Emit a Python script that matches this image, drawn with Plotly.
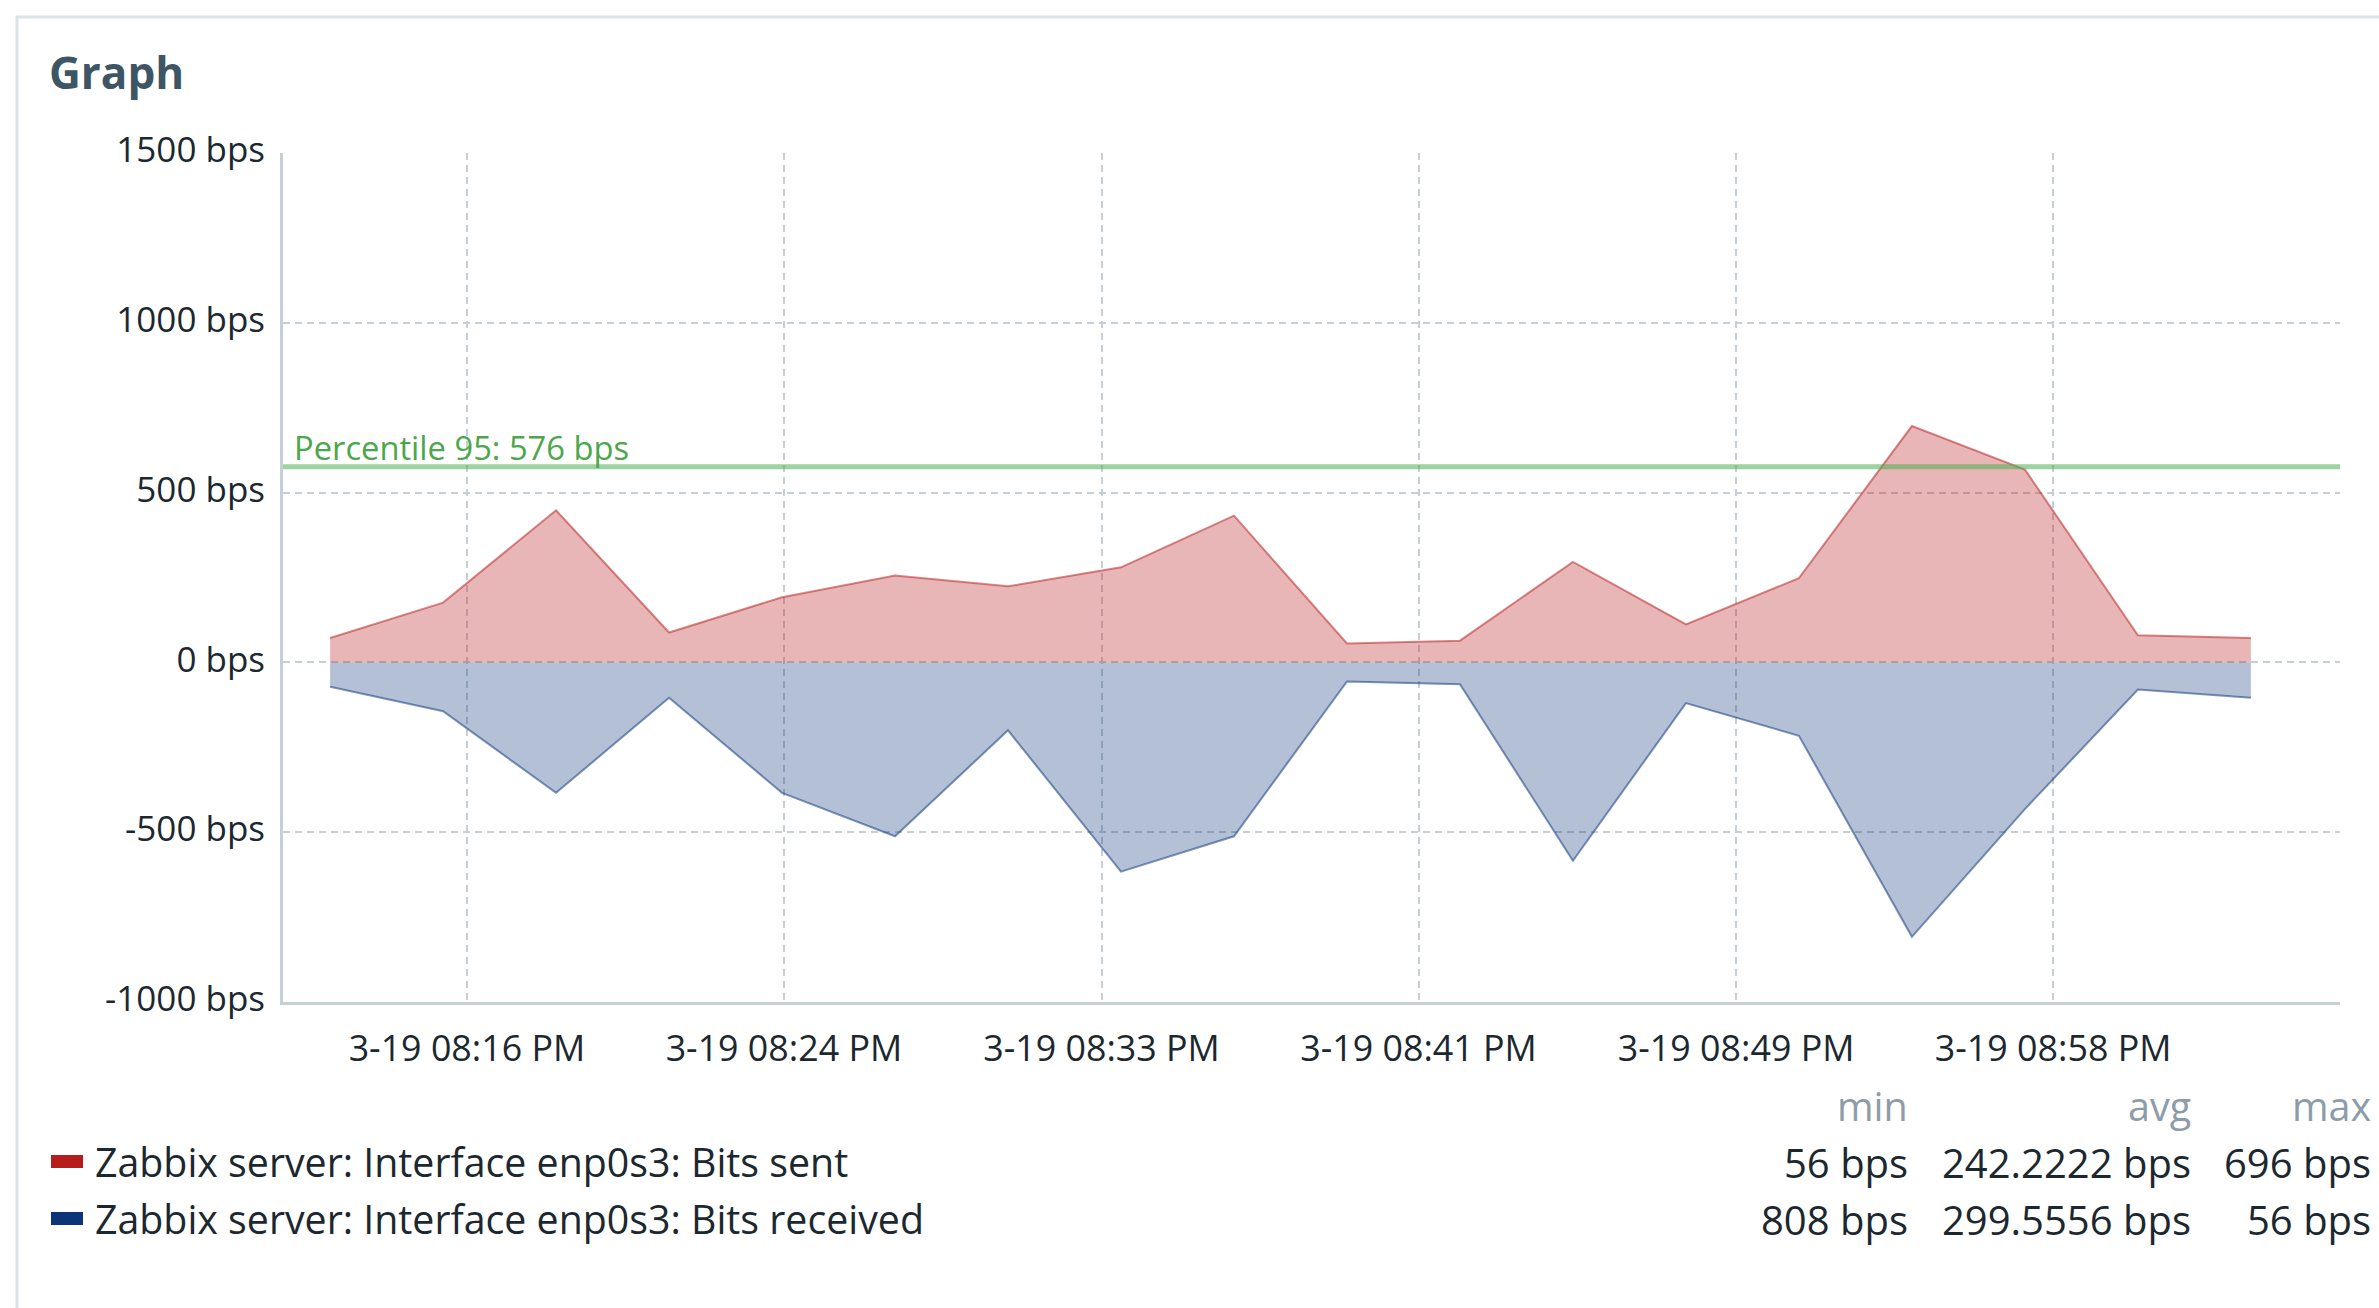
import plotly.graph_objects as go

# ---------------- data ----------------
times = [
    "2024-03-19 20:12:35", "2024-03-19 20:15:35", "2024-03-19 20:18:35",
    "2024-03-19 20:21:35", "2024-03-19 20:24:35", "2024-03-19 20:27:35",
    "2024-03-19 20:30:35", "2024-03-19 20:33:35", "2024-03-19 20:36:35",
    "2024-03-19 20:39:35", "2024-03-19 20:42:35", "2024-03-19 20:45:35",
    "2024-03-19 20:48:35", "2024-03-19 20:51:35", "2024-03-19 20:54:35",
    "2024-03-19 20:57:35", "2024-03-19 21:00:35", "2024-03-19 21:03:35",
]
bits_sent = [72, 176, 448, 88, 192, 256, 224, 280, 432, 56, 64, 296,
             112, 248, 696, 568, 80, 72]
bits_received = [-72, -144, -384, -104, -384, -512, -200, -616, -512, -56,
                 -64, -584, -120, -216, -808, -432, -80, -104]

percentile_95 = 576
percentile_label = "Percentile 95: 576 bps"

x_range = ["2024-03-19 20:11:20", "2024-03-19 21:05:57"]
x_tickvals = ["2024-03-19 20:16:13", "2024-03-19 20:24:38", "2024-03-19 20:33:04",
              "2024-03-19 20:41:29", "2024-03-19 20:49:55", "2024-03-19 20:58:20"]
x_ticktext = ["3-19 08:16 PM", "3-19 08:24 PM", "3-19 08:33 PM",
              "3-19 08:41 PM", "3-19 08:49 PM", "3-19 08:58 PM"]

y_tickvals = [-1000, -500, 0, 500, 1000, 1500]
y_ticktext = ["-1000 bps", "-500 bps", "0 bps", "500 bps", "1000 bps", "1500 bps"]

series_names = ["Zabbix server: Interface enp0s3: Bits sent",
                "Zabbix server: Interface enp0s3: Bits received"]
stat_headers = ["min", "avg", "max"]
sent_stats = ["56 bps", "242.2222 bps", "696 bps"]
received_stats = ["808 bps", "299.5556 bps", "56 bps"]

title_text = "Graph"

# ---------------- styling / layout ----------------
W, H = 2379, 1308
L, R, T, B = 283, 2340, 153, 1002
PW, PH = R - L, B - T
FONT = "Open Sans"
TEXT = "#1c2830"
GRID = "#c6cfd6"

def px_x(px):
    return (px - L) / PW

def px_y(py):
    return (B - py) / PH

RED = "185,28,28"
BLUE = "12,52,120"

fig = go.Figure()
fig.add_trace(go.Scatter(
    x=times, y=bits_sent, mode="lines", fill="tozeroy",
    fillcolor=f"rgba({RED},0.32)", line=dict(color=f"rgba({RED},0.52)", width=2),
    name=series_names[0], hoverinfo="skip"))
fig.add_trace(go.Scatter(
    x=times, y=bits_received, mode="lines", fill="tozeroy",
    fillcolor=f"rgba({BLUE},0.31)", line=dict(color=f"rgba({BLUE},0.52)", width=2),
    name=series_names[1], hoverinfo="skip"))

shapes = [
    # card border
    dict(type="rect", xref="paper", yref="paper",
         x0=px_x(17), x1=px_x(W + 50), y0=px_y(H + 50), y1=px_y(17),
         line=dict(color="#dce3e7", width=3), fillcolor="rgba(0,0,0,0)", layer="below"),
    # percentile line
    dict(type="line", xref="paper", yref="y", x0=0, x1=1,
         y0=percentile_95, y1=percentile_95,
         line=dict(color="rgba(76,175,80,0.55)", width=5), layer="above"),
    # legend swatches
    dict(type="rect", xref="paper", yref="paper",
         x0=px_x(51), x1=px_x(83), y0=px_y(1168), y1=px_y(1155),
         fillcolor="#b71c1c", line=dict(width=0)),
    dict(type="rect", xref="paper", yref="paper",
         x0=px_x(51), x1=px_x(83), y0=px_y(1225), y1=px_y(1212),
         fillcolor="#0b3578", line=dict(width=0)),
]

annotations = [
    dict(text=f"<b>{title_text}</b>", x=px_x(47), y=px_y(72), xref="paper", yref="paper",
         xanchor="left", yanchor="middle", showarrow=False,
         font=dict(family=FONT, size=44, color="#3e5566")),
    dict(text=percentile_label, x=px_x(292), y=px_y(447), xref="paper", yref="paper",
         xanchor="left", yanchor="middle", showarrow=False,
         font=dict(family=FONT, size=32.7, color="#4ca64c")),
]
row_y = [1162, 1219]
for name, yy in zip(series_names, row_y):
    annotations.append(dict(text=name, x=px_x(93), y=px_y(yy), xref="paper", yref="paper",
                            xanchor="left", yanchor="middle", showarrow=False,
                            font=dict(family=FONT, size=39.3, color=TEXT)))
col_right = [1910, 2193, 2373]
for hdr, xr in zip(stat_headers, col_right):
    annotations.append(dict(text=hdr, x=px_x(xr), y=px_y(1106), xref="paper", yref="paper",
                            xanchor="right", yanchor="middle", showarrow=False,
                            font=dict(family=FONT, size=39.5, color="#8c9ca8")))
for stats, yy in zip([sent_stats, received_stats], row_y):
    for s, xr in zip(stats, col_right):
        annotations.append(dict(text=s, x=px_x(xr), y=px_y(yy), xref="paper", yref="paper",
                                xanchor="right", yanchor="middle", showarrow=False,
                                font=dict(family=FONT, size=40, color=TEXT)))

fig.update_layout(
    width=W, height=H,
    margin=dict(l=L, r=W - R, t=T, b=H - B, pad=0),
    paper_bgcolor="white", plot_bgcolor="white",
    showlegend=False,
    shapes=shapes, annotations=annotations,
    font=dict(family=FONT, color=TEXT),
    xaxis=dict(type="date", range=x_range, tickvals=x_tickvals, ticktext=x_ticktext,
               showgrid=True, gridcolor=GRID, gridwidth=2, griddash="7px,5px",
               showline=True, linecolor="#c5cfd5", linewidth=3, ticks="",
               tickfont=dict(family=FONT, size=35.8, color=TEXT),
               ticklabelstandoff=13, zeroline=False, automargin=False, fixedrange=True),
    yaxis=dict(range=[-1000, 1500], tickvals=y_tickvals, ticktext=y_ticktext,
               showgrid=True, gridcolor=GRID, gridwidth=2, griddash="7px,5px",
               showline=True, linecolor="#c5cfd5", linewidth=3, ticks="",
               tickfont=dict(family=FONT, size=35, color=TEXT),
               ticklabelstandoff=8, ticklabelshift=-3,
               zeroline=False, automargin=False, fixedrange=True),
)

fig.write_html("out.html", config={"displayModeBar": False},
               post_script="document.body.style.margin='0';document.body.style.overflow='hidden';")
